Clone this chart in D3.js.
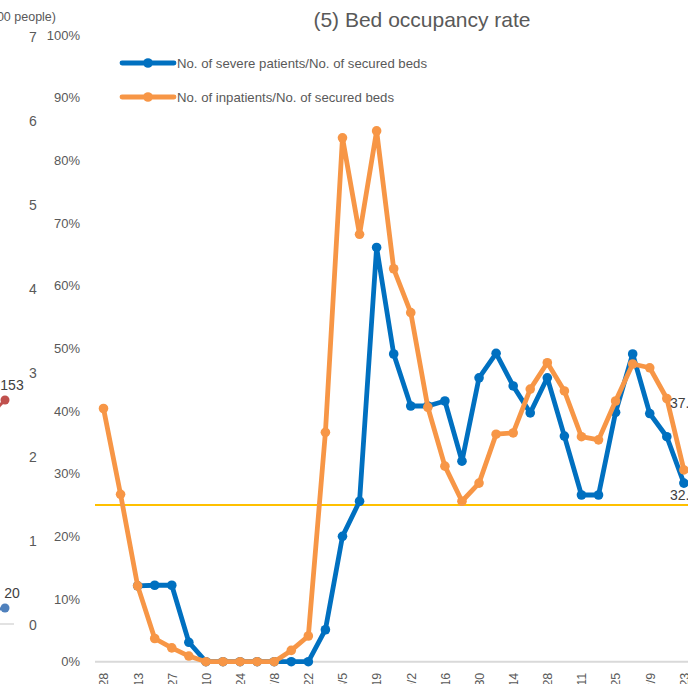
<!DOCTYPE html>
<html>
<head>
<meta charset="utf-8">
<script src="https://cdn.jsdelivr.net/npm/d3@7"></script>
<style>
  html, body { margin: 0; padding: 0; background: #fff; }
  svg { display: block; font-family: "Liberation Sans", Arial, sans-serif; }
</style>
</head>
<body>
<svg id="chart" width="688" height="684"></svg>
<script>
// Weekly reporting dates (2020)
const dates = ["4/28","5/6","5/13","5/20","5/27","6/3","6/10","6/17","6/24","7/1","7/8","7/15",
  "7/22","7/29","8/5","8/12","8/19","8/26","9/2","9/9","9/16","9/23","9/30","10/7","10/14",
  "10/21","10/28","11/4","11/11","11/18","11/25","12/2","12/9","12/16","12/23"];

// Severe patients / secured beds (%)
const severeRate = [null,null,12.1,12.2,12.2,3.1,0,0,0,0,0,0,0,5.1,20.0,25.6,66.1,49.1,40.8,40.8,
  41.6,32.0,45.3,49.2,44.0,39.7,45.3,36.0,26.6,26.6,39.8,49.1,39.6,35.9,28.5];

// Inpatients / secured beds (%)
const inpatientRate = [40.4,26.7,12.1,3.7,2.2,0.9,0,0,0,0,0,1.8,4.1,36.6,83.6,68.2,84.7,62.7,55.7,
  40.6,31.2,25.6,28.5,36.3,36.5,43.5,47.7,43.2,35.9,35.4,41.6,47.5,46.9,42.0,30.6];

// Most recent daily figures, printed at the end of the lines
const latestInpatientRate = 37.5;
const latestSevereRate = 32.3;

const threshold = 25;
const yTicks = [0,10,20,30,40,50,60,70,80,90,100];

// Neighbouring panel: patients (hundreds of people) axis and its latest points
const peopleTicks = [0,1,2,3,4,5,6,7];
const patientsTotal = [142, 153];
const patientsSevere = [18, 20];

const svg = d3.select("#chart");
const W = 688, H = 684;

// ---------- neighbouring panel (left edge) ----------
const left = svg.append("g");
const yPeople = d3.scaleLinear().domain([0, 7]).range([625, 37]);
const yCount = d3.scaleLinear().domain([0, 400]).range([639.3, 13.7]);
const xLeft = d3.scalePoint().domain(["prev","last"]).range([-12, 5]);

left.append("line").attr("x1", 0).attr("x2", 14).attr("y1", 624).attr("y2", 624)
  .attr("stroke", "#D9D9D9").attr("stroke-width", 1.5);

left.append("text").attr("x", 56).attr("y", 21).attr("text-anchor", "end")
  .attr("font-size", 12.5).attr("fill", "#595959").text("(100 people)");

left.selectAll("text.ptick").data(peopleTicks).join("text")
  .attr("class", "ptick")
  .attr("x", 29).attr("y", d => yPeople(d)).attr("dy", "0.35em")
  .attr("font-size", 14).attr("fill", "#595959").text(d => d);

function leftSeries(vals, color) {
  const pts = vals.map((v, i) => ({ k: i === 0 ? "prev" : "last", v }));
  left.append("path").datum(pts)
    .attr("fill", "none").attr("stroke", color).attr("stroke-width", 3)
    .attr("d", d3.line().x(d => xLeft(d.k)).y(d => yCount(d.v)));
  left.selectAll(null).data(pts).join("circle")
    .attr("cx", d => xLeft(d.k)).attr("cy", d => yCount(d.v)).attr("r", 4.5).attr("fill", color);
  const last = pts[pts.length - 1];
  left.append("text").attr("x", xLeft(last.k) + 7).attr("y", yCount(last.v) - 10)
    .attr("text-anchor", "middle").attr("font-size", 14).attr("fill", "#404040").text(last.v);
}
leftSeries(patientsTotal, "#C0504D");
leftSeries(patientsSevere, "#4F81BD");

// ---------- bed occupancy panel ----------
const x = d3.scalePoint().domain(dates).range([103.5, 103.5 + 17.07 * (dates.length - 1)]);
const y = d3.scaleLinear().domain([0, 100]).range([661.7, 35]);

svg.append("text").attr("x", 422).attr("y", 27).attr("text-anchor", "middle")
  .attr("font-size", 21).attr("fill", "#595959").text("(5) Bed occupancy rate");

// y axis labels
const yAxis = svg.append("g").attr("transform", "translate(88,0)")
  .call(d3.axisLeft(y).tickValues(yTicks).tickFormat(d => d + "%").tickSize(0).tickPadding(8));
yAxis.select(".domain").remove();
yAxis.selectAll("text").attr("font-size", 13).attr("fill", "#595959")
  .attr("font-family", "'Liberation Sans', Arial, sans-serif");

// baseline
svg.append("line").attr("x1", 95).attr("x2", W).attr("y1", y(0)).attr("y2", y(0))
  .attr("stroke", "#D9D9D9").attr("stroke-width", 2);

// x axis labels (every second week, rotated)
const xAxis = svg.append("g").attr("transform", `translate(0,${y(0)})`)
  .call(d3.axisBottom(x).tickValues(dates.filter((d, i) => i % 2 === 0)).tickSize(0));
xAxis.select(".domain").remove();
xAxis.selectAll("text")
  .attr("transform", "rotate(-90)")
  .attr("text-anchor", "end").attr("x", -11).attr("y", 0).attr("dy", "0.35em")
  .attr("font-size", 12.5).attr("fill", "#595959")
  .attr("font-family", "'Liberation Sans', Arial, sans-serif");

// threshold line
svg.append("line").attr("x1", 95).attr("x2", W).attr("y1", y(threshold)).attr("y2", y(threshold))
  .attr("stroke", "#FFC000").attr("stroke-width", 2);

const plot = svg.append("g");
function series(vals, color) {
  const pts = vals.map((v, i) => ({ d: dates[i], v })).filter(p => p.v !== null);
  plot.append("path").datum(pts)
    .attr("fill", "none").attr("stroke", color).attr("stroke-width", 4.8)
    .attr("stroke-linejoin", "round")
    .attr("d", d3.line().x(p => x(p.d)).y(p => y(p.v)));
  plot.selectAll(null).data(pts).join("circle")
    .attr("cx", p => x(p.d)).attr("cy", p => y(p.v)).attr("r", 4.8).attr("fill", color);
  return pts;
}
series(severeRate, "#0070C0");
series(inpatientRate, "#F79646");

// latest figures next to the line ends
const fmt = v => v.toFixed(1) + "%";
const endX = x(dates[dates.length - 1]);
svg.append("text").attr("x", endX - 14).attr("y", y(latestInpatientRate) - 19)
  .attr("font-size", 14).attr("fill", "#404040").text(fmt(latestInpatientRate));
svg.append("text").attr("x", endX - 14).attr("y", y(latestSevereRate) + 40.5)
  .attr("font-size", 14).attr("fill", "#404040").text(fmt(latestSevereRate));

// legend
const legend = [
  { label: "No. of severe patients/No. of secured beds", color: "#0070C0", yy: 63 },
  { label: "No. of inpatients/No. of secured beds", color: "#F79646", yy: 97 }
];
const lg = svg.append("g").selectAll("g").data(legend).join("g")
  .attr("transform", d => `translate(0,${d.yy})`);
lg.append("line").attr("x1", 122).attr("x2", 174).attr("y1", 0).attr("y2", 0)
  .attr("stroke", d => d.color).attr("stroke-width", 4.8).attr("stroke-linecap", "round");
lg.append("circle").attr("cx", 148).attr("cy", 0).attr("r", 4.8).attr("fill", d => d.color);
lg.append("text").attr("x", 177).attr("y", 0).attr("dy", "0.35em")
  .attr("font-size", 13.2).attr("fill", "#595959").text(d => d.label);
</script>
</body>
</html>
